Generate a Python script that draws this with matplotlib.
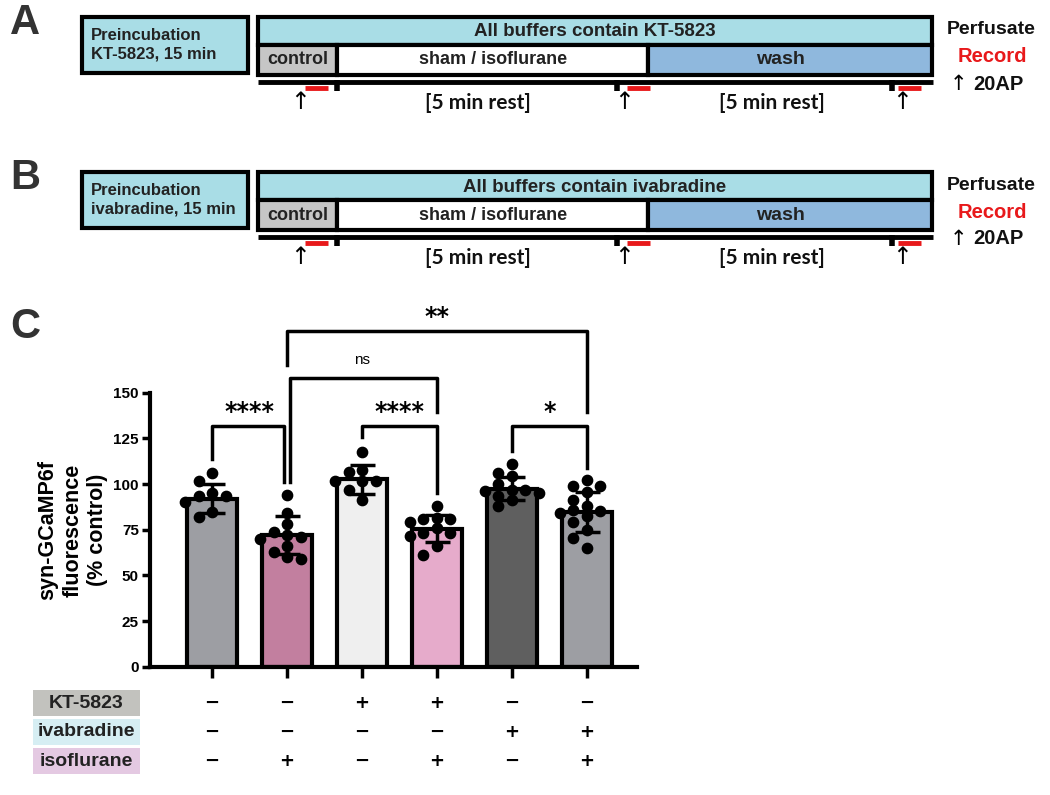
import numpy as np
import matplotlib.pyplot as plt
from matplotlib.patches import Rectangle
import matplotlib.transforms as mtransforms

plt.rcParams['font.family'] = ['Liberation Sans', 'DejaVu Sans']
plt.rcParams['font.weight'] = 'bold'
NARROW = ['Liberation Sans Narrow', 'Liberation Sans', 'DejaVu Sans']

# ---- data (panel C) ----
row_names = ['KT-5823', 'ivabradine', 'isoflurane']
kt_signs = ['−', '−', '+', '+', '−', '−']
iva_signs = ['−', '−', '−', '−', '+', '+']
iso_signs = ['−', '+', '−', '+', '−', '+']

means = [92, 72, 102.5, 75.5, 97.5, 84.5]
sds = [8, 10.5, 8, 7.5, 6.5, 11]

pts_1 = [106, 101.5, 95, 93.5, 93.5, 90, 84.5, 82]
pts_2 = [94, 84, 78, 74, 72, 71, 70, 66, 63, 60, 59]
pts_3 = [117.5, 107.5, 106.5, 101.5, 101.5, 101.5, 97, 91]
pts_4 = [88, 81.5, 81, 81, 79, 76, 73, 73, 71.5, 66, 61]
pts_5 = [111, 106, 104.5, 100, 97, 97, 96, 95, 93.5, 91.5, 88]
pts_6 = [102, 99, 99, 95.5, 91.5, 88, 86, 85, 84, 82.5, 79, 75, 70.5, 65]
points = [pts_1, pts_2, pts_3, pts_4, pts_5, pts_6]

# significance: (group a, group b, label)
comparisons = [(0, 1, '****'), (2, 3, '****'), (4, 5, '*'), (1, 3, 'ns'), (1, 5, '**')]

bar_colors = ['#9d9ea3', '#c27f9f', '#efefef', '#e6abcb', '#5f5f5f', '#9d9ea3']
row_colors = ['#c2c2be', '#d6eef3', '#e4c9e2']

cyan = '#a9dde6'
ctrl_gray = '#c6c6c6'
wash_blue = '#8fb8dd'
red = '#e8191b'

fig = plt.figure(figsize=(10.5, 7.95), dpi=100)

# overlay axes in pixel coordinates for the protocol diagrams
ov = fig.add_axes([0, 0, 1, 1], zorder=0)
ov.set_xlim(0, 1050)
ov.set_ylim(795, 0)
ov.axis('off')


def rect(x0, y0, x1, y1, fc, lw=3):
    ov.add_patch(Rectangle((x0, y0), x1 - x0, y1 - y0, facecolor=fc,
                           edgecolor='black', linewidth=lw))


def protocol(y0, letter, drug, pre_lines):
    ov.text(10, y0 + 6, letter, fontsize=30, color='#333333', ha='left', va='center')
    rect(82, y0, 248, y0 + 56, cyan)
    ov.text(91, y0 + 28, pre_lines, fontsize=12, color='#222222', ha='left',
            va='center', linespacing=1.3)
    rect(258, y0, 932, y0 + 28, cyan)
    ov.text(595, y0 + 15, 'All buffers contain ' + drug, fontsize=13.5,
            color='#222222', ha='center', va='center')
    rect(258, y0 + 28, 337, y0 + 58, ctrl_gray)
    rect(337, y0 + 28, 648, y0 + 58, 'white')
    rect(648, y0 + 28, 932, y0 + 58, wash_blue)
    ov.text(298, y0 + 43, 'control', fontsize=13, color='#222222', ha='center', va='center')
    ov.text(493, y0 + 43, 'sham / isoflurane', fontsize=13, color='#222222',
            ha='center', va='center')
    ov.text(780, y0 + 43, 'wash', fontsize=14, color='#222222', ha='center', va='center')
    # timeline
    ty = y0 + 65
    ov.plot([258, 933], [ty, ty], color='black', lw=3.5, solid_capstyle='butt')
    for tx in [337, 617, 892]:
        ov.plot([tx, tx], [ty - 2, ty + 9], color='black', lw=4, solid_capstyle='butt')
    for rx in [305, 627, 898]:
        ov.plot([rx, rx + 23], [ty + 6, ty + 6], color=red, lw=3.5, solid_capstyle='butt')
    for ax_ in [300, 624, 902]:
        ov.text(ax_, ty + 20, '↑', fontsize=17, family='DejaVu Sans', fontweight='normal',
                ha='center', va='center')
    for cx in [478, 772]:
        ov.text(cx, ty + 21, '[5 min rest]', fontsize=15, family=['Lato', 'DejaVu Sans'],
                ha='center', va='center', color='#111111')
    ov.text(947, y0 + 13, 'Perfusate', fontsize=14, ha='left', va='center', color='#111111')
    ov.text(958, y0 + 40, 'Record', fontsize=14.5, ha='left', va='center', color=red)
    ov.text(950, y0 + 67, '↑', fontsize=15, family='DejaVu Sans', fontweight='normal',
            ha='left', va='center')
    ov.text(973, y0 + 67, '20AP', fontsize=14.5, ha='left', va='center', color='#111111')


protocol(17, 'A', 'KT-5823', 'Preincubation\nKT-5823, 15 min')
protocol(172, 'B', 'ivabradine', 'Preincubation\nivabradine, 15 min')
ov.text(10, 327, 'C', fontsize=30, color='#333333', ha='left', va='center')

# ---- panel C bar chart ----
ax = fig.add_axes([150 / 1050, 1 - 666.7 / 795, 487 / 1050, 274 / 795], zorder=1)
ax.patch.set_visible(False)
x = np.arange(len(means))
ax.bar(x, means, width=0.66, color=bar_colors, edgecolor='black', linewidth=3, zorder=2)


def swarm(vals, step=0.18, d=10, sx=75, sy=1.826):
    placed = []
    out = np.zeros(len(vals))
    slots = [0, -1, 1, -2, 2]
    for i in np.argsort(vals)[::-1]:
        best, best_gap = 0, -1
        for k in slots:
            dx = k * step
            gap = min([np.hypot((dx - px) * sx, (vals[i] - py) * sy) for px, py in placed],
                      default=99)
            if gap >= d:
                best = dx
                break
            if gap > best_gap:
                best, best_gap = dx, gap
        placed.append((best, vals[i]))
        out[i] = best
    return out


for i, vals in enumerate(points):
    vals = np.array(vals, dtype=float)
    ax.scatter(i + swarm(vals), vals, s=55, color='black', zorder=3, clip_on=False)

ax.errorbar(x, means, yerr=sds, fmt='none', ecolor='black', elinewidth=2.5,
            capsize=9, capthick=2.5, zorder=4)

# significance brackets
tops = {(0, 1): 132, (2, 3): 132, (4, 5): 132, (1, 3): 158, (1, 5): 184}
legs = {(0, 1): (113.5, 101), (2, 3): (125.5, 95), (4, 5): (118, 109),
        (1, 3): (101, 139.5), (1, 5): (165, 139.5)}
shift = {(0, 1): (0, -0.04), (1, 3): (0.04, 0)}
for a, b, lab in comparisons:
    top = tops[(a, b)]
    la, lb = legs[(a, b)]
    sa, sb = shift.get((a, b), (0, 0))
    ax.plot([a + sa, a + sa, b + sb, b + sb], [la, top, top, lb], color='black', lw=2.5,
            clip_on=False, zorder=5)
    xm = (a + b) / 2
    if lab == 'ns':
        ax.text(xm, top + 6, lab, fontsize=11, family=NARROW, fontweight='normal',
                ha='center', va='bottom')
    else:
        ax.text(xm, top + 7.5, lab, fontsize=17, family='DejaVu Sans', fontweight='bold',
                ha='center', va='center')

ax.set_xlim(-0.827, 5.667)
ax.set_ylim(0, 150)
ax.set_yticks(range(0, 151, 25))
ax.set_xticks(x)
ax.set_xticklabels([])
for lab in ax.get_yticklabels():
    lab.set_family(NARROW)
    lab.set_fontweight('bold')
    lab.set_fontsize(11)
ax.tick_params(axis='y', length=6, width=2.5, pad=2)
ax.tick_params(axis='x', length=8, width=2.5)
for s in ['top', 'right']:
    ax.spines[s].set_visible(False)
for s in ['left', 'bottom']:
    ax.spines[s].set_linewidth(3)

fig.text(73 / 1050, 1 - 530 / 795, 'syn-GCaMP6f\nfluorescence\n(% control)', rotation=90,
         ha='center', va='center', multialignment='center', fontsize=15.5, linespacing=1.25)

# condition table under the bars
tr = mtransforms.blended_transform_factory(ax.transData, ov.transData)
row_y = [703, 732, 761]
for name, col, ry, signs in zip(row_names, row_colors, row_y, [kt_signs, iva_signs, iso_signs]):
    ov.add_patch(Rectangle((33, ry - 13), 107, 26, facecolor=col, edgecolor='none'))
    ov.text(86, ry, name, family=NARROW, fontsize=14, ha='center', va='center', color='#222222')
    for i, sg in enumerate(signs):
        ov.text(i, ry, sg, transform=tr, fontsize=13, family='DejaVu Sans', fontweight='bold',
                ha='center', va='center')

fig.savefig('out.png', dpi=100)
